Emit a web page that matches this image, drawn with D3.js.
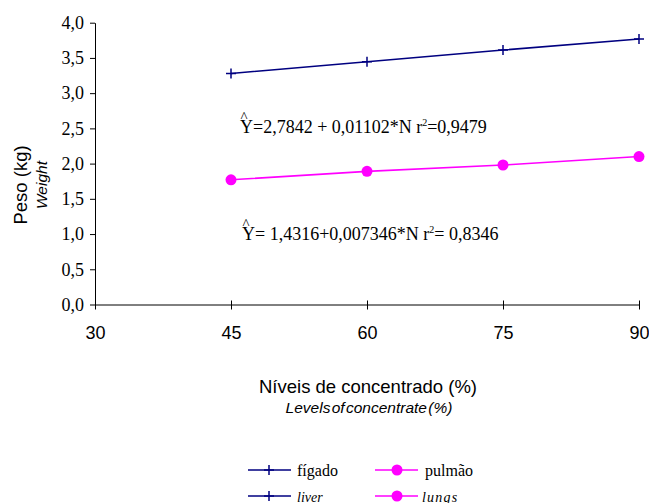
<!DOCTYPE html>
<html><head><meta charset="utf-8">
<script src="https://cdn.jsdelivr.net/npm/d3@7"></script>
<style>body{margin:0;background:#fff}svg{display:block}</style>
</head><body>
<svg id="c" width="649" height="503"></svg>
<script>
const xValues = [45, 60, 75, 90];
const figado = [3.28, 3.446, 3.612, 3.768];
const pulmao = [1.77, 1.89, 1.98, 2.10];
const xTicks = [30, 45, 60, 75, 90];
const yTicks = [0, 0.5, 1, 1.5, 2, 2.5, 3, 3.5, 4];
const seriesNames = ["fígado", "pulmão"];
const seriesNamesEn = ["liver", "lungs"];
const eqFigado = ["Y=2,7842 + 0,01102*N r", "2", "=0,9479"];
const eqPulmao = ["Y= 1,4316+0,007346*N r", "2", "= 0,8346"];

const svg = d3.select("#c");
const x = d3.scaleLinear().domain([30, 90]).range([95, 639]);
const y = d3.scaleLinear().domain([0, 4]).range([304.5, 22.7]);
const navy = "#000080", mag = "#FF00FF";
const fmt = d => d3.format(".1f")(d).replace(".", ",");

// Y axis
const ya = svg.append("g").attr("transform", `translate(${x(30)},0)`)
  .call(d3.axisLeft(y).tickValues(yTicks).tickFormat(fmt).tickSize(5).tickSizeOuter(0));
ya.selectAll("text").attr("font-family", "Liberation Serif").attr("font-size", 18).attr("fill", "#000").attr("dy", "0.32em").attr("x", -11);
ya.selectAll("line,path").attr("stroke", "#000");
// X axis
const xa = svg.append("g").attr("transform", `translate(0,${y(0)})`)
  .call(d3.axisBottom(x).tickValues(xTicks).tickSize(5).tickSizeOuter(0));
xa.selectAll(".tick line").attr("y1", -4).attr("y2", 5);
xa.selectAll("text").attr("font-family", "Liberation Sans").attr("font-size", 18).attr("fill", "#000").attr("y", 22).attr("dy", "0.71em");
xa.selectAll("line,path").attr("stroke", "#000");

const line = d3.line().x((d, i) => x(xValues[i])).y(d => y(d));
svg.append("path").datum(figado).attr("d", line).attr("fill", "none").attr("stroke", navy).attr("stroke-width", 1.6);
svg.append("path").datum(pulmao).attr("d", line).attr("fill", "none").attr("stroke", mag).attr("stroke-width", 1.6);

function plus(g, cx, cy) {
  g.append("path").attr("d", `M${cx - 5},${cy}H${cx + 5}M${cx},${cy - 5}V${cy + 5}`).attr("stroke", navy).attr("stroke-width", 1.5);
}
figado.forEach((v, i) => plus(svg, x(xValues[i]), y(v)));
svg.selectAll("circle.p").data(pulmao).join("circle").attr("class", "p")
  .attr("cx", (d, i) => x(xValues[i])).attr("cy", d => y(d)).attr("r", 5.5).attr("fill", mag);

// equations
function eq(parts, tx, ty) {
  const t = svg.append("text").attr("x", tx).attr("y", ty).attr("font-family", "Liberation Serif").attr("font-size", 18).attr("fill", "#000");
  t.append("tspan").text(parts[0]);
  t.append("tspan").attr("dy", -7).attr("font-size", 10).text(parts[1]);
  t.append("tspan").attr("dy", 7).text(parts[2]);
  svg.append("text").attr("x", tx + 4).attr("y", ty - 11).attr("text-anchor", "middle").attr("font-family", "Liberation Serif").attr("font-size", 15).text("^");
}
eq(eqFigado, 240, 133);
eq(eqPulmao, 242, 239.5);

// axis titles
svg.append("text").attr("x", 368).attr("y", 393).attr("text-anchor", "middle").attr("font-family", "Liberation Sans").attr("font-size", 18.5).text("Níveis de concentrado (%)");
svg.append("text").attr("x", 369).attr("y", 413).attr("text-anchor", "middle").attr("font-family", "Liberation Sans").attr("font-style", "italic").attr("font-size", 15.5).attr("word-spacing", -3).text("Levels of concentrate (%)");
svg.append("text").attr("transform", "translate(27,185) rotate(-90)").attr("text-anchor", "middle").attr("font-family", "Liberation Sans").attr("font-size", 18.5).text("Peso (kg)");
svg.append("text").attr("transform", "translate(46.5,185) rotate(-90)").attr("text-anchor", "middle").attr("font-family", "Liberation Sans").attr("font-style", "italic").attr("font-size", 15.5).text("Weight");

// legend
const lg = svg.append("g");
[[470, seriesNames, false], [496, seriesNamesEn, true]].forEach(([ly, names, it]) => {
  lg.append("line").attr("x1", 248).attr("x2", 291).attr("y1", ly).attr("y2", ly).attr("stroke", navy).attr("stroke-width", 1.6);
  plus(lg, 269, ly);
  lg.append("line").attr("x1", 375).attr("x2", 418).attr("y1", ly).attr("y2", ly).attr("stroke", mag).attr("stroke-width", 1.6);
  lg.append("circle").attr("cx", 397).attr("cy", ly).attr("r", 5.5).attr("fill", mag);
  lg.append("text").attr("x", 297).attr("y", ly + 5.5).attr("font-family", "Liberation Serif").attr("font-size", it ? 14 : 16).attr("font-style", it ? "italic" : "normal").text(names[0]);
  lg.append("text").attr("x", it ? 422 : 425).attr("y", ly + 5.5).attr("font-family", "Liberation Serif").attr("font-size", it ? 14 : 16).attr("font-style", it ? "italic" : "normal").attr("letter-spacing", it ? 1.2 : 0).text(names[1]);
});
</script>
</body></html>
